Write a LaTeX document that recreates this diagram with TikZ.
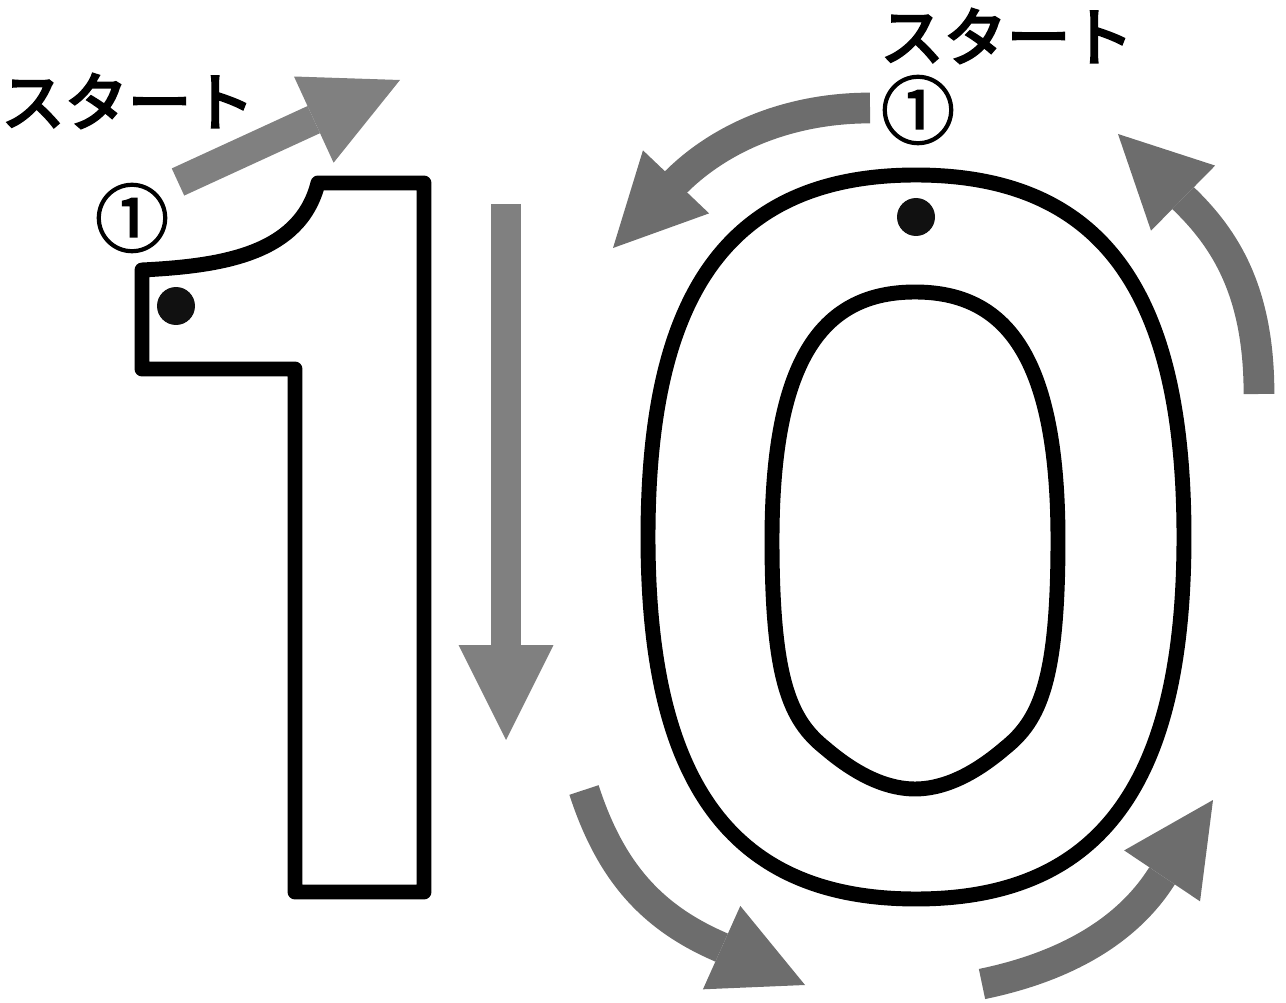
\documentclass[tikz,border=0pt]{standalone}
\usepackage{fontspec}
\newfontfamily\jpfont{Noto Sans CJK JP}[FakeBold=4]
\newfontfamily\numfont{Noto Sans CJK JP}[FakeBold=2.5]
\usetikzlibrary{arrows.meta}

\definecolor{lightarrow}{HTML}{808080}
\definecolor{darkarrow}{HTML}{6D6D6D}
\definecolor{dotblack}{HTML}{111111}

\begin{document}
\begin{tikzpicture}[
    x=0.02cm, y=-0.02cm,
    outline/.style={draw=black, line width=8.5pt, line join=round},
    dot/.style={circle, fill=dotblack, inner sep=0pt, minimum size=0.76cm},
    start/.style={font=\jpfont\fontsize{36}{36}\selectfont, inner sep=0pt},
    num/.style={font=\numfont\fontsize{42}{42}\selectfont, inner sep=0pt},
    lightway/.style={draw=lightarrow, line width=17pt, -{Triangle[length=54pt, width=54pt, line width=0pt]}},
    darkway/.style={draw=darkarrow, line width=17.5pt, -{Triangle[length=52pt, width=52pt, line width=0pt]}}
  ]
  \useasboundingbox (0,0) rectangle (1286,1003);

  \node[start] (startOne) at (128,101) {スタート};
  \node[num] (numOne) at (132,218) {①};
  \node[start] (startZero) at (1007,36) {スタート};
  \node[num] (numZero) at (918,110) {①};

  \draw[outline] (142,270) -- (142,369) -- (295,369) -- (295,892) -- (424,892) -- (424,183) -- (318,183)
    .. controls (300,255) and (220,266) .. cycle;
  \draw[outline] (916,175) .. controls (1115,175) and (1184,310) .. (1184,537)
    .. controls (1184,770) and (1110,899) .. (916,899)
    .. controls (722,899) and (648,770) .. (648,537)
    .. controls (648,310) and (717,175) .. cycle;
  \draw[outline] (915,292) .. controls (1005,292) and (1058,355) .. (1058,540)
    .. controls (1058,680) and (1040,720) .. (1005,748)
    .. controls (970,778) and (940,789) .. (915,789)
    .. controls (890,789) and (860,778) .. (825,748)
    .. controls (790,720) and (772,680) .. (772,540)
    .. controls (772,355) and (825,292) .. cycle;

  \node[dot] (dotOne) at (176,306) {};
  \node[dot] (dotZero) at (916,217) {};

  \draw[lightway] (178,182) -- (400,80);
  \draw[lightway] (506,204) -- (506,740);

  \draw[darkway] (870,108) .. controls (790,108) and (720,137) .. (674,184) -- (613,248);
  \draw[darkway] (1259,394) .. controls (1259,300) and (1231,245) .. (1186,201) -- (1118,134);
  \draw[darkway] (584,790) .. controls (610,870) and (650,916) .. (718,946) -- (805,985);
  \draw[darkway] (982,984) .. controls (1050,970) and (1120,940) .. (1160,879) -- (1213,800);
\end{tikzpicture}
\end{document}
